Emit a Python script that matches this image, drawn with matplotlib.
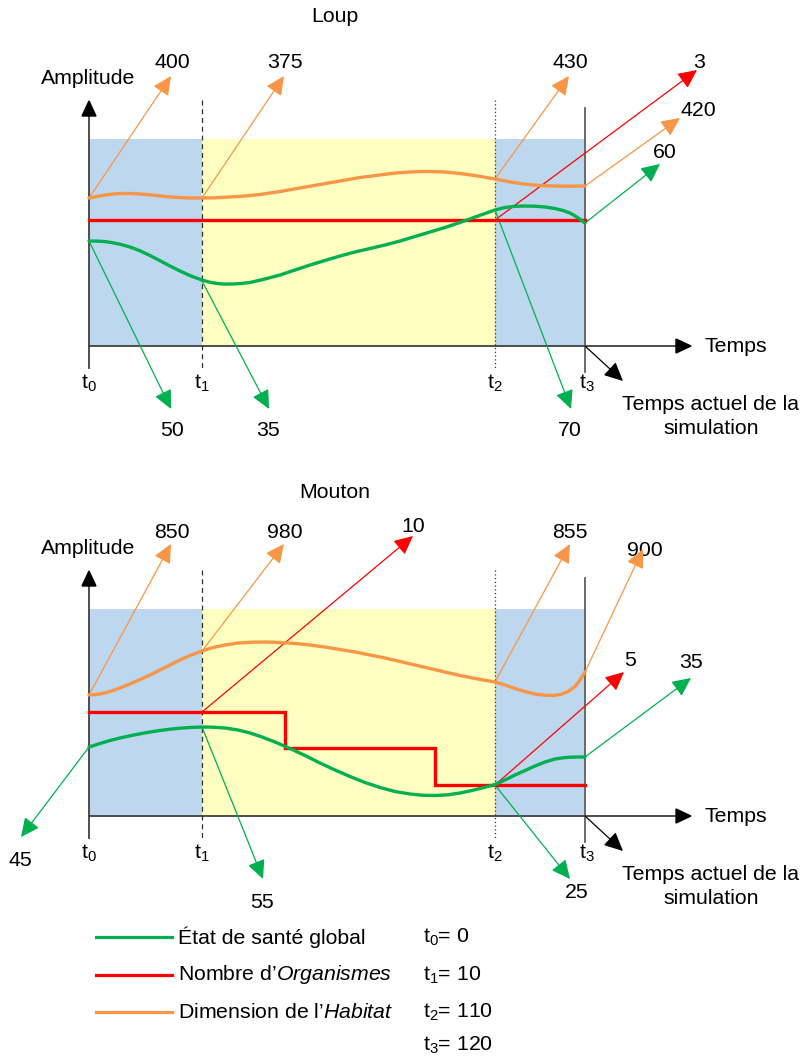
import matplotlib
matplotlib.use("Agg")
import matplotlib.pyplot as plt
from matplotlib.patches import FancyArrowPatch, Rectangle, Polygon

plt.rcParams['font.family'] = ['Liberation Sans', 'DejaVu Sans']
plt.rcParams['mathtext.fontset'] = 'custom'
plt.rcParams['mathtext.rm'] = 'Liberation Sans'
plt.rcParams['mathtext.it'] = 'Liberation Sans:italic'

W, H = 804, 1059
GREEN = '#00B050'
RED = '#FF0000'
ORANGE = '#F79646'
BLUE_BG = '#BDD7EE'
YELLOW_BG = '#FFFFC2'
AXIS = '#404040'

# ---- time markers (drawing x positions) and legend values ----
t_x = [89, 202, 495, 585]
t_values = [0, 10, 110, 120]

# ---- Loup panel ----
loup_orange_x = [89, 97, 105, 113, 120, 130, 140, 152, 165, 178, 190, 202, 215, 230, 245, 260, 280, 300, 320, 340, 360, 380, 395, 410, 420, 430, 445, 460, 478, 495, 508, 520, 533, 545, 555, 565, 575, 585]
loup_orange_y = [198, 196.5, 195, 194, 193.5, 193.5, 194, 195, 196.5, 197.5, 198, 198, 197.8, 197, 196, 194.5, 191.5, 188, 184.5, 181, 177.5, 175, 173, 172, 171.6, 171.5, 172, 173.5, 176, 179, 181.5, 183.5, 185, 185.8, 186, 186.2, 186.2, 186]
loup_red_x = [89, 585]
loup_red_y = [220, 220]
loup_green_x = [89, 97, 105, 112, 120, 130, 140, 150, 160, 170, 180, 191, 202, 210, 218, 225, 233, 241, 250, 265, 280, 295, 310, 325, 340, 355, 370, 385, 400, 415, 430, 445, 460, 478, 495, 505, 515, 525, 535, 545, 555, 563, 570, 576, 581, 585]
loup_green_y = [241, 241.1, 241.6, 242.6, 244.2, 247, 250.8, 255.5, 260.7, 266, 271, 276, 280, 282.3, 283.6, 284.1, 284, 283.5, 282.5, 279, 275, 270, 265, 260.5, 256, 252, 248.5, 245, 241, 236.5, 232, 227.5, 222.5, 216, 210, 207.5, 206.3, 206, 206.2, 207, 208.5, 210.5, 213, 216.5, 220, 223]

# Value callouts: (start x, start y, tip x, tip y, label, colour)
loup_callouts = [
    (89, 198, 171, 76, '400', ORANGE),
    (202, 198, 284, 76, '375', ORANGE),
    (495, 179, 569, 76, '430', ORANGE),
    (495, 220, 697, 70, '3', RED),
    (585, 186, 680, 118, '420', ORANGE),
    (585, 223, 660, 164, '60', GREEN),
    (89, 241, 171, 409, '50', GREEN),
    (202, 281, 269, 409, '35', GREEN),
    (495, 210, 571, 409, '70', GREEN),
]
loup_label_pos = [(172, 62), (285, 62), (570, 62), (699, 62), (698, 110), (665, 152),
                  (172, 431), (268, 431), (570, 431)]

# ---- Mouton panel ----
mouton_orange_x = [89, 100, 110, 120, 130, 140, 150, 160, 170, 180, 190, 202, 213, 225, 238, 252, 265, 280, 295, 310, 325, 340, 355, 370, 385, 400, 415, 430, 445, 460, 478, 495, 505, 515, 525, 535, 545, 553, 561, 568, 575, 580, 585]
mouton_orange_y = [695, 694, 691.5, 688, 684, 679.5, 675, 670, 665, 660, 655.5, 651, 647.5, 645, 643, 642.2, 642, 642.5, 643.5, 645, 647, 649.5, 652, 655, 658, 661.5, 665, 668.5, 672, 675.5, 679, 682, 685, 688.5, 691.5, 694, 695.3, 695.5, 694.3, 691.5, 686.5, 680, 672]
mouton_red_x = [89, 285, 285, 435, 435, 585]
mouton_red_y = [712, 712, 748, 748, 785, 785]
mouton_green_x = [89, 100, 110, 120, 130, 140, 150, 160, 170, 180, 190, 202, 213, 225, 238, 250, 262, 275, 290, 305, 320, 335, 350, 365, 380, 395, 410, 422, 435, 448, 460, 472, 484, 495, 505, 515, 525, 535, 545, 555, 563, 570, 577, 585]
mouton_green_y = [747, 743.5, 740.5, 738, 735.8, 733.8, 732, 730.5, 729.2, 728.2, 727.5, 727, 727.2, 728, 730, 733, 737, 742, 748.5, 755.5, 763, 770, 776.5, 782.5, 787.5, 791.5, 794, 795.2, 795.5, 794.8, 793, 790.5, 787.5, 784.5, 780, 775, 770.5, 766, 762, 759, 757.8, 757.2, 757, 757]

mouton_callouts = [
    (89, 695, 171, 544, '850', ORANGE),
    (202, 651, 284, 544, '980', ORANGE),
    (202, 712, 413, 536, '10', RED),
    (495, 682, 570, 544, '855', ORANGE),
    (585, 672, 643, 549, '900', ORANGE),
    (495, 785, 624, 672, '5', RED),
    (585, 757, 691, 678, '35', GREEN),
    (89, 747, 21, 837, '45', GREEN),
    (202, 727, 263, 879, '55', GREEN),
    (495, 785, 570, 879, '25', GREEN),
]
mouton_label_pos = [(172, 532), (285, 532), (413, 527), (570, 532), (645, 550), (630, 660),
                    (691, 662), (20, 860), (262, 902), (577, 893)]

# ---- legend ----
legend_colors = [GREEN, RED, ORANGE]
legend_labels = ['État de santé global',
                 r'Nombre d’$\mathit{Organismes}$',
                 r'Dimension de l’$\mathit{Habitat}$']

fig = plt.figure(figsize=(W / 100, H / 100), dpi=100)
ax = fig.add_axes([0, 0, 1, 1])
ax.set_xlim(0, W)
ax.set_ylim(H, 0)
ax.axis('off')

FS = 15.3


def arrow(x0, y0, x1, y1, color, lw=0.9, hl=1.15, hw=0.55, z=5):
    p = FancyArrowPatch((x0, y0), (x1, y1),
                        arrowstyle=f'-|>,head_length={hl},head_width={hw}',
                        mutation_scale=10, color=color, lw=lw,
                        shrinkA=0, shrinkB=0, zorder=z)
    ax.add_patch(p)


def panel(dy, title, title_y, ox, oy, rx, ry, gx, gy, callouts, label_pos):
    top, base = 139 + dy, 346 + dy
    # coloured phases
    ax.add_patch(Rectangle((t_x[0], top), t_x[1] - t_x[0], base - top, color=BLUE_BG, lw=0, zorder=0))
    ax.add_patch(Rectangle((t_x[1], top), t_x[2] - t_x[1], base - top, color=YELLOW_BG, lw=0, zorder=0))
    ax.add_patch(Rectangle((t_x[2], top), t_x[3] - t_x[2], base - top, color=BLUE_BG, lw=0, zorder=0))

    ax.text(335, title_y, title, ha='center', va='center', fontsize=FS)
    ax.text(88, 78 + dy, 'Amplitude', ha='center', va='center', fontsize=FS)

    # axes
    ax.plot([t_x[0], t_x[0]], [368 + dy, 114 + dy], color=AXIS, lw=1.3, zorder=3)
    ax.add_patch(Polygon([[t_x[0] - 7, 116 + dy], [t_x[0] + 7, 116 + dy], [t_x[0], 101 + dy]],
                         closed=True, color='black', zorder=4))
    ax.plot([t_x[0], 678], [base, base], color=AXIS, lw=1.3, zorder=3)
    ax.add_patch(Polygon([[676, base - 7], [676, base + 7], [691, base]],
                         closed=True, color='black', zorder=4))
    ax.text(705, base, 'Temps', ha='left', va='center', fontsize=FS)

    # time markers
    ax.plot([t_x[1], t_x[1]], [100 + dy, 370 + dy], color='#303030', lw=0.9, ls=(0, (4, 3)), zorder=3)
    ax.plot([t_x[2], t_x[2]], [100 + dy, 368 + dy], color='#303030', lw=0.9, ls=(0, (1, 2)), zorder=3)
    ax.plot([t_x[3], t_x[3]], [108 + dy, 372 + dy], color='#606060', lw=1.3, zorder=3)
    for i, x in enumerate(t_x):
        ax.text(x + (2 if i == 3 else 0), 383 + dy, rf't$_{{\mathrm{{{i}}}}}$',
                ha='center', va='center', fontsize=FS)

    # current simulation time
    arrow(t_x[3], base, 623, 381 + dy, 'black', lw=0.9)
    ax.text(711, 405 + dy, 'Temps actuel de la', ha='center', va='center', fontsize=FS)
    ax.text(711, 429 + dy, 'simulation', ha='center', va='center', fontsize=FS)

    # series
    ax.plot(ox, oy, color=ORANGE, lw=2.4, solid_capstyle='round', solid_joinstyle='round', zorder=6)
    ax.plot(rx, ry, color=RED, lw=2.4, solid_joinstyle='miter', zorder=6)
    ax.plot(gx, gy, color=GREEN, lw=2.4, solid_capstyle='round', solid_joinstyle='round', zorder=6)

    # value callouts
    for (x0, y0, x1, y1, lab, c), (lx, ly) in zip(callouts, label_pos):
        arrow(x0, y0, x1, y1, c)
        ax.text(lx, ly, lab, ha='center', va='center', fontsize=FS)


panel(0, 'Loup', 16, loup_orange_x, loup_orange_y, loup_red_x, loup_red_y,
      loup_green_x, loup_green_y, loup_callouts, loup_label_pos)
panel(470, 'Mouton', 492, mouton_orange_x, mouton_orange_y, mouton_red_x, mouton_red_y,
      mouton_green_x, mouton_green_y, mouton_callouts, mouton_label_pos)

# legend
legend_y = [937, 975, 1012]
for c, lab, y in zip(legend_colors, legend_labels, legend_y):
    ax.plot([96, 172], [y, y], color=c, lw=2.3, zorder=3)
    ax.text(178, y, lab, ha='left', va='center', fontsize=FS)

t_text_y = [937, 975, 1012, 1045]
for i, (v, y) in enumerate(zip(t_values, t_text_y)):
    ax.text(423, y, rf't$_{{\mathrm{{{i}}}}}$= {v}', ha='left', va='center', fontsize=FS)

fig.savefig('out.png', dpi=100)
